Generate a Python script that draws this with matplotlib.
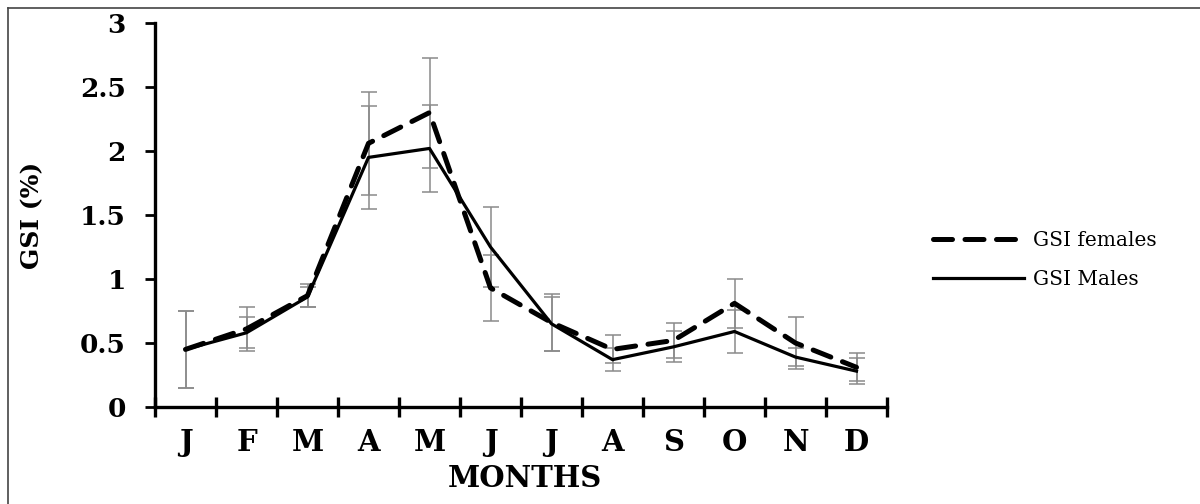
import matplotlib
matplotlib.use("Agg")
import matplotlib.pyplot as plt
from matplotlib.lines import Line2D
import numpy as np

months = ["J", "F", "M", "A", "M", "J", "J", "A", "S", "O", "N", "D"]
gsi_females = [0.45, 0.61, 0.87, 2.06, 2.30, 0.93, 0.66, 0.45, 0.52, 0.81, 0.50, 0.31]
err_females = [0.30, 0.17, 0.09, 0.40, 0.43, 0.26, 0.22, 0.11, 0.14, 0.19, 0.20, 0.11]
gsi_males = [0.45, 0.58, 0.86, 1.95, 2.02, 1.25, 0.65, 0.37, 0.47, 0.59, 0.39, 0.28]
err_males = [0.30, 0.12, 0.08, 0.40, 0.34, 0.31, 0.21, 0.09, 0.12, 0.17, 0.07, 0.10]
y_ticks = [0, 0.5, 1, 1.5, 2, 2.5, 3]
y_ticklabels = ["0", "0.5", "1", "1.5", "2", "2.5", "3"]

serif = ["DejaVu Serif"]

fig = plt.figure(figsize=(12, 5.04), dpi=100)
ax = fig.add_axes([155 / 1200, 1 - 407 / 504, 732 / 1200, 384 / 504])

x = np.arange(len(months)) + 0.5
ecol = "#8a8a8a"
ax.errorbar(x, gsi_females, yerr=err_females, fmt="none", ecolor=ecol,
            elinewidth=1.1, capsize=6, capthick=1.1, zorder=2)
ax.errorbar(x, gsi_males, yerr=err_males, fmt="none", ecolor=ecol,
            elinewidth=1.1, capsize=6, capthick=1.1, zorder=2)

lf, = ax.plot(x, gsi_females, color="black", lw=3.6, zorder=3,
              label="GSI females", dash_capstyle="round")
lf.set_dashes([3.8, 2.5])
lm, = ax.plot(x, gsi_males, color="black", lw=2.3, zorder=4, label="GSI Males")

ax.set_xlim(0, 12)
ax.set_ylim(0, 3)
for s in ["top", "right"]:
    ax.spines[s].set_visible(False)
for s in ["left", "bottom"]:
    ax.spines[s].set_linewidth(2.4)

ax.set_xticks(np.arange(0, 13))
ax.set_xticklabels([])
ax.set_xticks(x, minor=True)
ax.set_xticklabels(months, minor=True, fontfamily=serif, fontweight="bold", fontsize=21)
ax.tick_params(axis="x", which="major", direction="inout", length=14, width=2.4)
ax.tick_params(axis="x", which="minor", length=0, pad=15)

ax.set_yticks(y_ticks)
ax.set_yticklabels(y_ticklabels, fontfamily=serif, fontweight="bold", fontsize=19)
ax.tick_params(axis="y", direction="out", length=7, width=2.0, pad=14)

ax.set_ylabel("GSI (%)", fontfamily=serif, fontweight="bold", fontsize=18)
ax.yaxis.set_label_coords(-0.152, 0.5)
ax.set_xlabel("MONTHS", fontfamily=serif, fontweight="bold", fontsize=21)
ax.xaxis.set_label_coords(0.505, -0.148)

leg = fig.legend(handles=[lf, lm], loc="center left",
                 bbox_to_anchor=(933 / 1200, 1 - 260 / 504),
                 frameon=False, borderpad=0, borderaxespad=0,
                 handlelength=4.5, handletextpad=0.45, labelspacing=1.0,
                 prop={"family": serif, "size": 14.5})

# outer thin border (top and left)
fig.add_artist(Line2D([8 / 1200, 1.0], [1 - 8 / 504, 1 - 8 / 504],
                      transform=fig.transFigure, color="#444444", lw=1.2))
fig.add_artist(Line2D([8 / 1200, 8 / 1200], [0.0, 1 - 8 / 504],
                      transform=fig.transFigure, color="#444444", lw=1.2))

fig.savefig("out.png", dpi=100)
